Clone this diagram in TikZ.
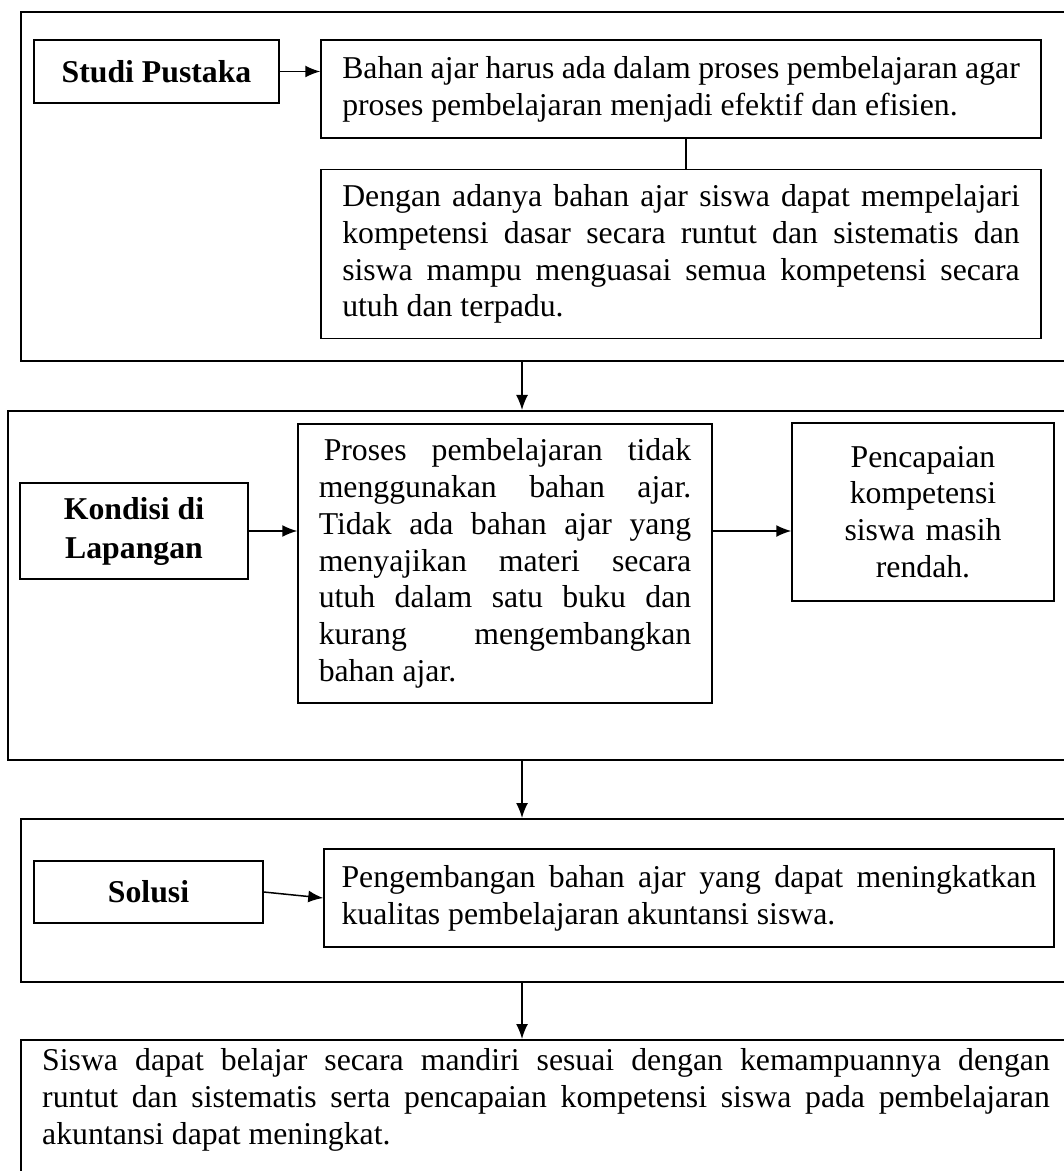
\documentclass[tikz,border=0pt]{standalone}
\usepackage{fontspec}
\setmainfont{Liberation Serif}
\usetikzlibrary{arrows.meta, positioning}

\begin{document}
\fontsize{12.7}{14.7}\selectfont
\begin{tikzpicture}[x=0.4pt, y=-0.4pt, >={Latex[length=6pt,width=4.8pt]},
        stage frame/.style={draw, thick, inner sep=0pt, anchor=north west},
        stage label/.style={draw, semithick, font=\fontsize{12.7}{15.6}\selectfont\bfseries, align=center, inner sep=0pt},
        stage text/.style={draw, semithick, align=justify, inner ysep=4pt}]
            \useasboundingbox (0,0) rectangle (1064,1171);
            % \draw[help lines] (0,0) grid[step=100] (1064,1171);
            \node[stage frame, minimum width=422pt, minimum height=139.6pt] (pustakaframe) at (20,11) {};
            \node[stage frame, minimum width=427.2pt, minimum height=139.6pt] (kondisiframe) at (7,410) {};
            \node[stage frame, minimum width=422pt, minimum height=65.2pt] (solusiframe) at (20,818) {};
            \node[stage frame, minimum width=422pt, minimum height=80pt] (hasilframe) at (20,1039) {};
            \coordinate (axis) at (522,0);

            \node[stage label, minimum width=98pt, minimum height=25.2pt] (pustaka) at (156.5,71.5) {Studi Pustaka};
            \node[stage text, text width=271pt, inner xsep=8.5pt, minimum height=39.2pt] (bahan) at (681,89)
                {Bahan ajar harus ada dalam proses pembelajaran agar\linebreak
                 proses pembelajaran menjadi efektif dan efisien.};
            \node[stage text, text width=271pt, inner xsep=8.5pt, minimum height=67.6pt] (dengan) [below=12pt of bahan]
                {Dengan adanya bahan ajar siswa dapat mempelajari\linebreak
                 kompetensi dasar secara runtut dan sistematis dan\linebreak
                 siswa mampu menguasai semua kompetensi secara\linebreak
                 utuh dan terpadu.};

            \node[stage label, minimum width=91.2pt, minimum height=38.4pt] (kondisi) at (134,531) {Kondisi di\\Lapangan};
            \node[stage text, text width=149pt, inner xsep=8.3pt, minimum height=111.6pt] (proses) at (505,563.5)
                {\hspace*{2pt}Proses pembelajaran tidak\linebreak
                 menggunakan bahan ajar.\linebreak
                 Tidak ada bahan ajar yang\linebreak
                 menyajikan materi secara\linebreak
                 utuh dalam satu buku dan\linebreak
                 kurang mengembangkan\linebreak
                 bahan ajar.};
            \node[stage text, align=center, text width=88.8pt, inner xsep=8pt, minimum height=71.2pt] (pencapaian) at (923,512)
                {Pencapaian\\ kompetensi\\ siswa masih\\ rendah.};

            \node[stage label, minimum width=91.6pt, minimum height=24.8pt] (solusi) at (148.5,892) {Solusi};
            \node[stage text, text width=278pt, inner xsep=7pt, minimum height=39.2pt] (pengembangan) at (689,898)
                {Pengembangan bahan ajar yang dapat meningkatkan\linebreak
                 kualitas pembelajaran akuntansi siswa.};

            \node[align=justify, text width=403pt, inner sep=0pt] (hasil) at (546,1100)
                {Siswa dapat belajar secara mandiri sesuai dengan kemampuannya dengan\linebreak
                 runtut dan sistematis serta pencapaian kompetensi siswa pada pembelajaran\linebreak
                 akuntansi dapat meningkat.};

            \path[->]  (pustaka.east) edge [semithick] (pustaka.east -| bahan.west);
            \draw[semithick] ([xshift=2pt]bahan.south) -- ([xshift=2pt]dengan.north);
            \path[->]  (pustakaframe.south -| axis) edge [semithick] (kondisiframe.north -| axis);
            \path[->]  (kondisi.east) edge [semithick] (kondisi.east -| proses.west);
            \path[->]  (kondisi.east -| proses.east) edge [semithick] (kondisi.east -| pencapaian.west);
            \path[->]  (kondisiframe.south -| axis) edge [semithick] (solusiframe.north -| axis);
            \path[->]  (solusi.east) edge [semithick] (pengembangan.west);
            \path[->]  (solusiframe.south -| axis) edge [semithick] (hasilframe.north -| axis);
        \end{tikzpicture}
\end{document}
